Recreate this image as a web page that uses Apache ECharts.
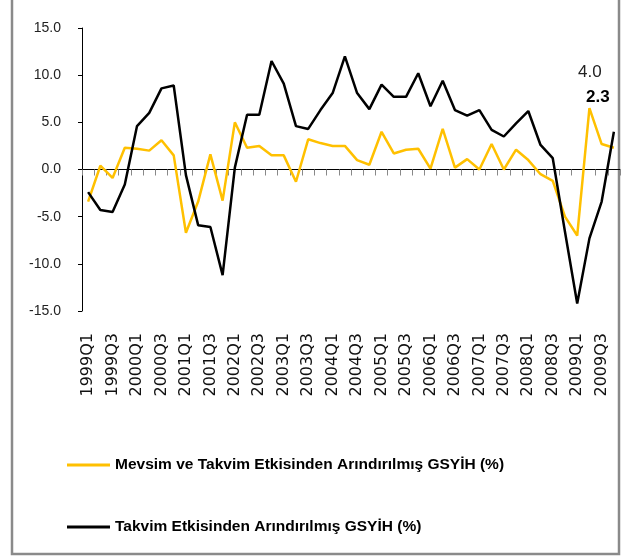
<!DOCTYPE html>
<html>
<head>
<meta charset="utf-8">
<script src="https://cdn.jsdelivr.net/npm/echarts@6/dist/echarts.min.js"></script>
<style>
html, body { margin: 0; padding: 0; background: #fff; }
#gdpChart { width: 626px; height: 557px; }
</style>
</head>
<body>
<div id="gdpChart"></div>
<script>
var years = ['1999','2000','2001','2002','2003','2004','2005','2006','2007','2008','2009'];
var quarters = ['Q1','Q2','Q3','Q4'];
var categories = [];
years.forEach(function(y){
    quarters.forEach(function(q){ categories.push(y + q); });
});

var seriesNames = ['Mevsim ve Takvim Etkisinden Arındırılmış GSYİH (%)', 'Takvim Etkisinden Arındırılmış GSYİH (%)'];

// mevsim ve takvim etkisinden arindirilmis
var seasonalAdj = [-3.4, 0.4, -0.9, 2.3, 2.2, 2.0, 3.1, 1.5, -6.7, -3.4, 1.6, -3.3,
    5.0, 2.3, 2.5, 1.5, 1.5, -1.3, 3.2, 2.8, 2.5, 2.5, 1.0, 0.5,
    4.0, 1.7, 2.1, 2.2, 0.1, 4.3, 0.2, 1.1, 0.0, 2.7, 0.0, 2.1,
    1.0, -0.5, -1.2, -5.0, -7.0, 6.5, 2.7, 2.3];

// takvim etkisinden arindirilmis
var calendarAdj = [-2.4, -4.3, -4.5, -1.6, 4.6, 6.0, 8.6, 8.9, -0.6, -5.9, -6.1, -11.2,
    0.2, 5.8, 5.8, 11.5, 9.1, 4.6, 4.3, 6.3, 8.1, 12.0, 8.1, 6.4,
    9.0, 7.7, 7.7, 10.2, 6.7, 9.4, 6.3, 5.7, 6.3, 4.2, 3.5, 4.9,
    6.2, 2.6, 1.2, -6.6, -14.2, -7.3, -3.4, 4.0];

var yTicks = [-15, 15, 5];   // min, max, interval

var chartObj = {
    myChart : echarts.init(document.getElementById('gdpChart')),
    option : null,
    init : function(){
        var that = this;
        that.render();
    },
    lastPoint : function(arr, labelStyle){
        var last = arr.length - 1;
        return {
            symbol : 'circle',
            symbolSize : 1,
            itemStyle : { color : 'rgba(0,0,0,0)' },
            label : labelStyle,
            data : [{ coord : [categories[last], arr[last]], value : arr[last] }]
        };
    },
    render : function(){
        var that = this;
        that.option = {
            backgroundColor : '#fff',
            animation : false,
            graphic : [{
                type : 'rect',
                shape : { x : 12, y : -5, width : 607, height : 559 },
                style : { fill : 'none', stroke : '#8a8a8a', lineWidth : 2.5 }
            }],
            legend : {
                orient : 'vertical',
                left : 67,
                top : 455,
                padding : 0,
                icon : 'rect',
                itemWidth : 43,
                itemHeight : 3,
                itemGap : 42,
                data : seriesNames,
                textStyle : {
                    fontFamily : '"Liberation Sans Narrow", "Liberation Sans", sans-serif',
                    fontWeight : 'bold',
                    fontSize : 15.5,
                    lineHeight : 20,
                    color : '#000'
                }
            },
            grid : {
                left : 82,
                right : 6,
                top : 28,
                bottom : 246
            },
            xAxis : [
                {
                    type : 'category',
                    data : categories,
                    boundaryGap : true,
                    axisLine : { onZero : true, lineStyle : { color : '#000', width : 1 } },
                    axisTick : { show : true, interval : 0, length : 6, lineStyle : { color : '#888' } },
                    axisLabel : { show : false }
                },
                {
                    type : 'category',
                    data : categories,
                    position : 'bottom',
                    boundaryGap : true,
                    axisLine : { show : false },
                    axisTick : { show : false },
                    axisLabel : {
                        interval : 1,
                        rotate : 90,
                        margin : 22,
                        fontFamily : '"DejaVu Sans", sans-serif',
                        fontSize : 16,
                        color : '#111'
                    }
                }
            ],
            yAxis : {
                type : 'value',
                min : yTicks[0],
                max : yTicks[1],
                interval : yTicks[2],
                splitLine : { show : false },
                axisLine : { show : true, lineStyle : { color : '#000', width : 1 } },
                axisTick : { show : true, length : 4, lineStyle : { color : '#000' } },
                axisLabel : {
                    margin : 21,
                    fontFamily : '"Liberation Sans", sans-serif',
                    fontSize : 14,
                    color : '#222',
                    formatter : function(v){ return v.toFixed(1); }
                }
            },
            series : [
                {
                    name : seriesNames[0],
                    type : 'line',
                    data : seasonalAdj,
                    symbol : 'none',
                    z : 2,
                    lineStyle : { color : '#FFC000', width : 2.5 },
                    itemStyle : { color : '#FFC000' },
                    markPoint : that.lastPoint(seasonalAdj, {
                        show : true,
                        position : 'inside',
                        offset : [-16, -50],
                        fontFamily : '"Liberation Sans", sans-serif',
                        fontWeight : 'bold',
                        fontSize : 17,
                        color : '#000',
                        formatter : function(p){ return p.value.toFixed(1); }
                    })
                },
                {
                    name : seriesNames[1],
                    type : 'line',
                    data : calendarAdj,
                    symbol : 'none',
                    z : 3,
                    lineStyle : { color : '#000', width : 2.5 },
                    itemStyle : { color : '#000' },
                    markPoint : that.lastPoint(calendarAdj, {
                        show : true,
                        position : 'inside',
                        offset : [-24, -59],
                        fontFamily : '"Liberation Sans", sans-serif',
                        fontSize : 17,
                        color : '#222',
                        formatter : function(p){ return p.value.toFixed(1); }
                    })
                }
            ]
        };
        that.myChart.setOption(that.option);
    }
};
chartObj.init();
</script>
</body>
</html>
